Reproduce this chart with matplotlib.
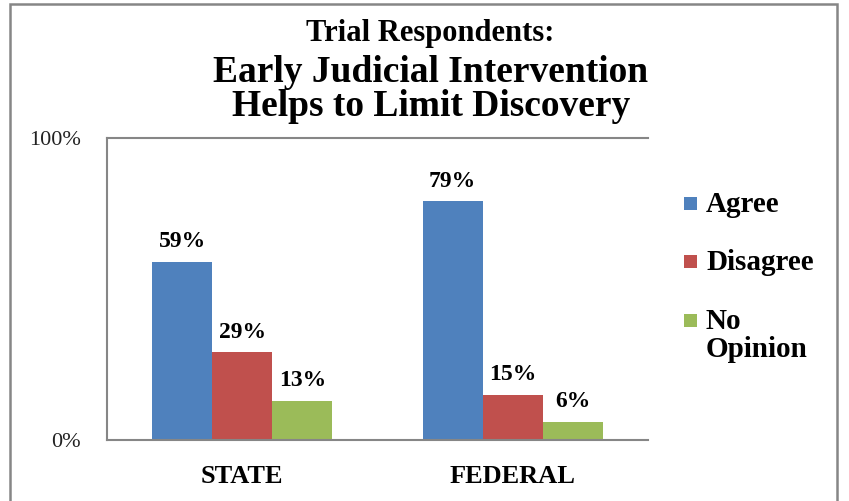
import matplotlib
matplotlib.use("Agg")
import matplotlib.pyplot as plt
import numpy as np
from matplotlib.patches import Rectangle

categories = ["STATE", "FEDERAL"]
series_names = ["Agree", "Disagree", "No\nOpinion"]
agree = [59, 79]
disagree = [29, 15]
no_opinion = [13, 6]
colors = ["#4F81BD", "#C0504D", "#9BBB59"]
yticks = [0, 100]
ytick_labels = ["0%", "100%"]

plt.rcParams['font.family'] = ['Liberation Serif', 'DejaVu Serif']

W, H = 849, 501
fig = plt.figure(figsize=(W / 100, H / 100), dpi=100)
# outer frame
fig.patches.append(Rectangle((10/W, -0.1), (837-10)/W, 1.1 - 4/H, transform=fig.transFigure,
                             fill=False, edgecolor="#868686", linewidth=1.8))

ax = fig.add_axes([107/W, 1 - 440/H, (648-107)/W, (440-138)/H])
x = np.arange(len(categories))
w = 0.222
for i, (vals, c) in enumerate(zip([agree, disagree, no_opinion], colors)):
    pos = x + (i - 1) * w
    ax.bar(pos, vals, width=w, color=c, linewidth=0)
    for p, v in zip(pos, vals):
        ax.annotate(f"{v}%", (p, v), xytext=(0, 7), textcoords="offset points",
                    ha="center", va="bottom", fontsize=17, fontweight="bold")

ax.set_xlim(-0.5, 1.5)
ax.set_ylim(0, 100)
ax.set_yticks(yticks)
ax.set_yticklabels(ytick_labels, fontsize=16, color="#222222")
ax.set_xticks(x)
ax.set_xticklabels(categories, fontsize=19, fontweight="bold")
ax.tick_params(axis="y", length=0, pad=19)
ax.tick_params(axis="x", length=0, pad=18)
ax.spines["right"].set_visible(False)
for s in ["left", "bottom", "top"]:
    ax.spines[s].set_color("#868686")
    ax.spines[s].set_linewidth(1.5)

# legend (manual, so the square aligns with the first line of each label)
row_y = [203, 261, 320]
sq = 13
for name, c, yc in zip(series_names, colors, row_y):
    fig.add_artist(Rectangle((684/W, 1 - (yc + sq/2)/H), sq/W, sq/H,
                             transform=fig.transFigure, facecolor=c, edgecolor="none"))
    fig.text(706/W, 1 - (yc - 12)/H, name, ha="left", va="top", fontsize=21,
             fontweight="bold", linespacing=1.05)

fig.text(430/W, 1 - 33/H, "Trial Respondents:", ha="center", va="center", fontsize=22, fontweight="bold")
fig.text(431/W, 1 - 72/H, "Early Judicial Intervention", ha="center", va="center", fontsize=27, fontweight="bold")
fig.text(431/W, 1 - 107/H, "Helps to Limit Discovery", ha="center", va="center", fontsize=27, fontweight="bold")

fig.savefig("out.png", dpi=100)
